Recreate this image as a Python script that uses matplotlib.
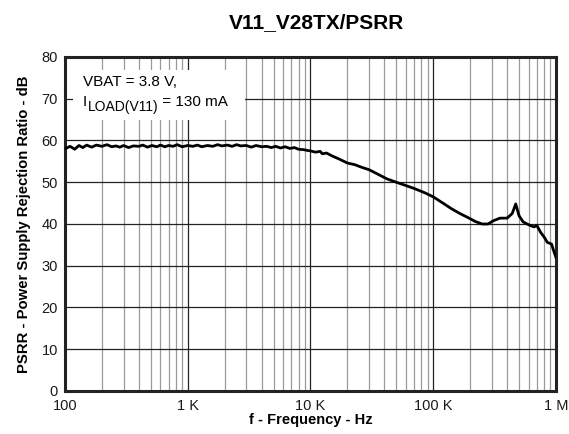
import matplotlib
matplotlib.use("Agg")
import matplotlib.pyplot as plt
from matplotlib.patches import Rectangle
from matplotlib.ticker import FixedLocator, NullFormatter, LogLocator

plt.rcParams['font.family'] = ['Liberation Sans', 'DejaVu Sans']

freq = [100, 110, 120, 130, 140, 150, 165, 180, 200, 220, 240, 260, 280, 300,
        330, 360, 400, 430, 470, 510, 560, 600, 650, 700, 760, 820, 900, 1000,
        1100, 1200, 1300, 1450, 1600, 1750, 1900, 2100, 2300, 2500, 2700, 3000,
        3300, 3600, 4000, 4400, 4800, 5200, 5700, 6200, 6800, 7400, 8000, 8800,
        9500, 10000, 11000, 12000, 12500, 13500, 15000, 17000, 20000, 23000,
        26000, 30000, 35000, 42000, 50000, 60000, 70000, 85000, 100000, 120000,
        140000, 165000, 190000, 220000, 250000, 280000, 310000, 350000, 400000,
        440000, 470000, 500000, 540000, 600000, 660000, 700000, 750000, 800000,
        850000, 920000, 960000, 1000000]
psrr = [58.0, 58.6, 57.9, 58.8, 58.3, 58.9, 58.4, 58.9, 58.6, 59.0, 58.5, 58.7,
        58.4, 58.8, 58.3, 58.7, 58.6, 58.9, 58.4, 58.8, 58.5, 58.9, 58.5, 58.8,
        58.6, 59.0, 58.5, 58.8, 58.6, 58.9, 58.5, 58.8, 58.6, 59.0, 58.7, 58.9,
        58.6, 59.0, 58.7, 58.8, 58.4, 58.8, 58.5, 58.6, 58.3, 58.6, 58.2, 58.5,
        58.1, 58.3, 57.9, 57.8, 57.6, 57.5, 57.2, 57.4, 56.8, 57.0, 56.3, 55.6,
        54.6, 54.2, 53.6, 53.0, 52.0, 50.8, 50.0, 49.2, 48.5, 47.5, 46.5, 45.0,
        43.7, 42.5, 41.6, 40.6, 40.0, 40.0, 40.8, 41.4, 41.4, 42.5, 44.8, 42.0,
        40.5, 39.8, 39.3, 39.6, 38.0, 36.9, 35.6, 35.2, 33.5, 32.0]

xticks = [100, 1000, 10000, 100000, 1000000]
xtick_labels = ['100', '1 K', '10 K', '100 K', '1 M']
yticks = [0, 10, 20, 30, 40, 50, 60, 70, 80]

fig = plt.figure(figsize=(5.69, 4.34), dpi=100)
ax = fig.add_axes([0.1142, 0.0991, 0.8629, 0.7696])

ax.set_xscale('log')
ax.set_xlim(100, 1e6)
ax.set_ylim(0, 80)

ax.xaxis.set_major_locator(FixedLocator(xticks))
ax.set_xticklabels(xtick_labels)
ax.xaxis.set_minor_locator(LogLocator(base=10, subs=range(2, 10)))
ax.xaxis.set_minor_formatter(NullFormatter())
ax.set_yticks(yticks)

ax.grid(which='major', axis='x', color='#222222', lw=0.9)
ax.grid(which='minor', axis='x', color='#9a9a9a', lw=0.9)
ax.grid(which='major', axis='y', color='#222222', lw=0.9)
ax.tick_params(which='both', length=0, labelsize=10.5, colors='#1a1a1a')
ax.tick_params(axis='x', pad=6)
ax.tick_params(axis='y', pad=5)
for s in ax.spines.values():
    s.set_linewidth(2.2)
    s.set_color('#222222')

ax.plot(freq, psrr, color='black', lw=2.0, zorder=4)

# white legend-like box behind the condition text
ax.add_patch(Rectangle((0.0163, 0.811), 0.350, 0.150, transform=ax.transAxes,
                       facecolor='white', edgecolor='none', zorder=2.5))
ax.text(140, 75.7, 'VBAT = 3.8 V,', fontsize=11, va='top', ha='left', zorder=3)
t_i = ax.text(140, 68.3, 'I', fontsize=11, va='baseline', ha='left', zorder=3)
t_sub = ax.annotate('LOAD(V11)', xy=(1, 0), xycoords=t_i, xytext=(0.3, -3.5),
                    textcoords='offset points', fontsize=10, va='bottom',
                    ha='left', zorder=3)
ax.annotate(' = 130 mA', xy=(1, 0), xycoords=t_sub, xytext=(0, 3.5),
            textcoords='offset points', fontsize=11, va='bottom', ha='left',
            zorder=3)

fig.text(0.5554, 1 - 28.5 / 434, 'V11_V28TX/PSRR', fontsize=15,
         fontweight='bold', ha='center', va='baseline')
ax.set_xlabel('f - Frequency - Hz', fontsize=10.5, fontweight='bold')
ax.set_ylabel('PSRR - Power Supply Rejection Ratio - dB', fontsize=10.7,
              fontweight='bold')
ax.xaxis.set_label_coords(0.5, -0.066)
ax.yaxis.set_label_coords(-0.069, 0.5)

fig.savefig('out.png', dpi=100)
